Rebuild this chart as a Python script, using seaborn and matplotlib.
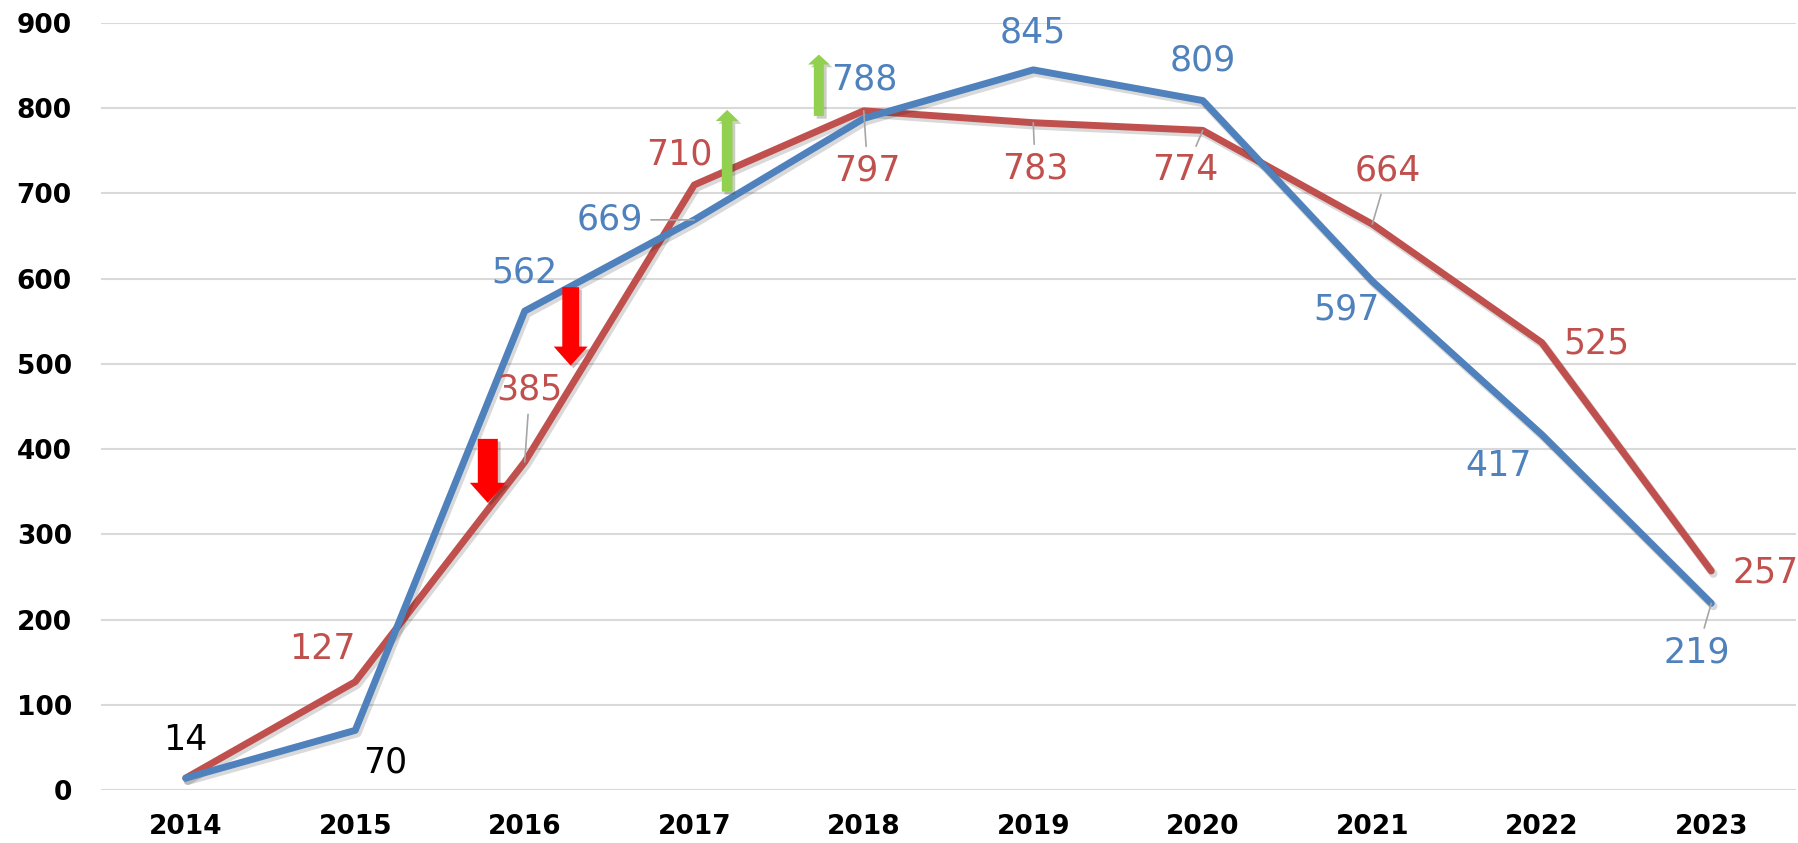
import matplotlib
matplotlib.use("Agg")
import matplotlib.pyplot as plt
import matplotlib.patheffects as pe
from matplotlib.patches import FancyArrow
import seaborn as sns
import pandas as pd
import numpy as np

# ---- data ----
years = ["2014", "2015", "2016", "2017", "2018", "2019", "2020", "2021", "2022", "2023"]
blue_values = [14, 70, 562, 669, 788, 845, 809, 597, 417, 219]
red_values = [14, 127, 385, 710, 797, 783, 774, 664, 525, 257]
yticks = [0, 100, 200, 300, 400, 500, 600, 700, 800, 900]

BLUE = "#4F81BD"
RED = "#C0504D"

# label offsets in pixels (dx, dy up positive), color, leader flag
blue_label_style = [(0, 38, "black", False), (30, -32, "black", False), (0, 39, BLUE, False),
                    (-84, 0, BLUE, True), (1, 39, BLUE, False), (0, 37, BLUE, False),
                    (0, 40, BLUE, False), (-26, -28, BLUE, False), (-43, -31, BLUE, False),
                    (-14, -49, BLUE, True)]
red_label_style = [None, (-33, 33, RED, False), (5, 72, RED, True), (-15, 30, RED, False),
                   (4, -60, RED, True), (2, -46, RED, True), (-17, -40, RED, True),
                   (16, 54, RED, True), (55, -1, RED, False), (54, -2, RED, False)]

sns.set_theme(style="white")
plt.rcParams["font.family"] = ["DejaVu Sans"]

fig = plt.figure(figsize=(17.99, 8.43), dpi=100)
ax = fig.add_axes([101 / 1799, 1 - 790 / 843, (1796 - 101) / 1799, (790 - 23) / 843])

x = np.arange(len(years))
df = pd.DataFrame({
    "x": np.concatenate([x, x]),
    "value": blue_values + red_values,
    "series": ["blue"] * len(years) + ["red"] * len(years),
})

shadow = [pe.SimpleLineShadow(offset=(1.5, -2), shadow_color="black", alpha=0.15, linewidth=6), pe.Normal()]
sns.lineplot(data=df, x="x", y="value", hue="series", hue_order=["red", "blue"],
             palette={"blue": BLUE, "red": RED}, linewidth=5, legend=False, ax=ax,
             solid_capstyle="round", solid_joinstyle="round", path_effects=shadow)

ax.set_xlim(-0.5, len(years) - 0.5)
ax.set_ylim(0, 900)
ax.set_yticks(yticks)
ax.set_xticks(x)
ax.set_xticklabels(years)
ax.set_xlabel("")
ax.set_ylabel("")
for s in ax.spines.values():
    s.set_visible(False)
ax.yaxis.grid(True, color="#D9D9D9", linewidth=1.5)
ax.xaxis.grid(False)
ax.set_axisbelow(True)
ax.tick_params(axis="both", length=0, labelsize=19, labelcolor="black")
ax.tick_params(axis="y", pad=21)
ax.tick_params(axis="x", pad=17)
for lab in ax.get_xticklabels() + ax.get_yticklabels():
    lab.set_fontweight("bold")

def put_labels(values, styles):
    for i, (v, st) in enumerate(zip(values, styles)):
        if st is None:
            continue
        dx, dy, col, leader = st
        kw = {}
        if leader:
            kw["arrowprops"] = dict(arrowstyle="-", color="#A6A6A6", lw=1.2, shrinkA=3, shrinkB=0)
        ax.annotate(str(v), xy=(i, v), xytext=(dx, dy), textcoords="offset pixels",
                    ha="center", va="center", fontsize=25, color=col, zorder=6, **kw)

put_labels(blue_values, blue_label_style)
put_labels(red_values, red_label_style)

# ---- decorative arrows (x in category units, y in value units) ----
arrows = [
    (1.782, 412, 337, 0.118, 0.212, 23.5, "#FF0000"),
    (2.271, 590, 498, 0.099, 0.200, 22.3, "#FF0000"),
    (3.194, 702, 798, 0.063, 0.134, 13, "#92D050"),
    (3.735, 791, 863, 0.059, 0.127, 11.7, "#92D050"),
]
for ax_x, y0, y1, w, hw, hl, col in arrows:
    arr = FancyArrow(ax_x, y0, 0, y1 - y0, width=w, head_width=hw, head_length=hl,
                     length_includes_head=True, color=col, zorder=5, linewidth=0)
    arr.set_path_effects([pe.SimplePatchShadow(offset=(2, -2), alpha=0.25), pe.Normal()])
    ax.add_patch(arr)

fig.savefig("out.png", dpi=100)
